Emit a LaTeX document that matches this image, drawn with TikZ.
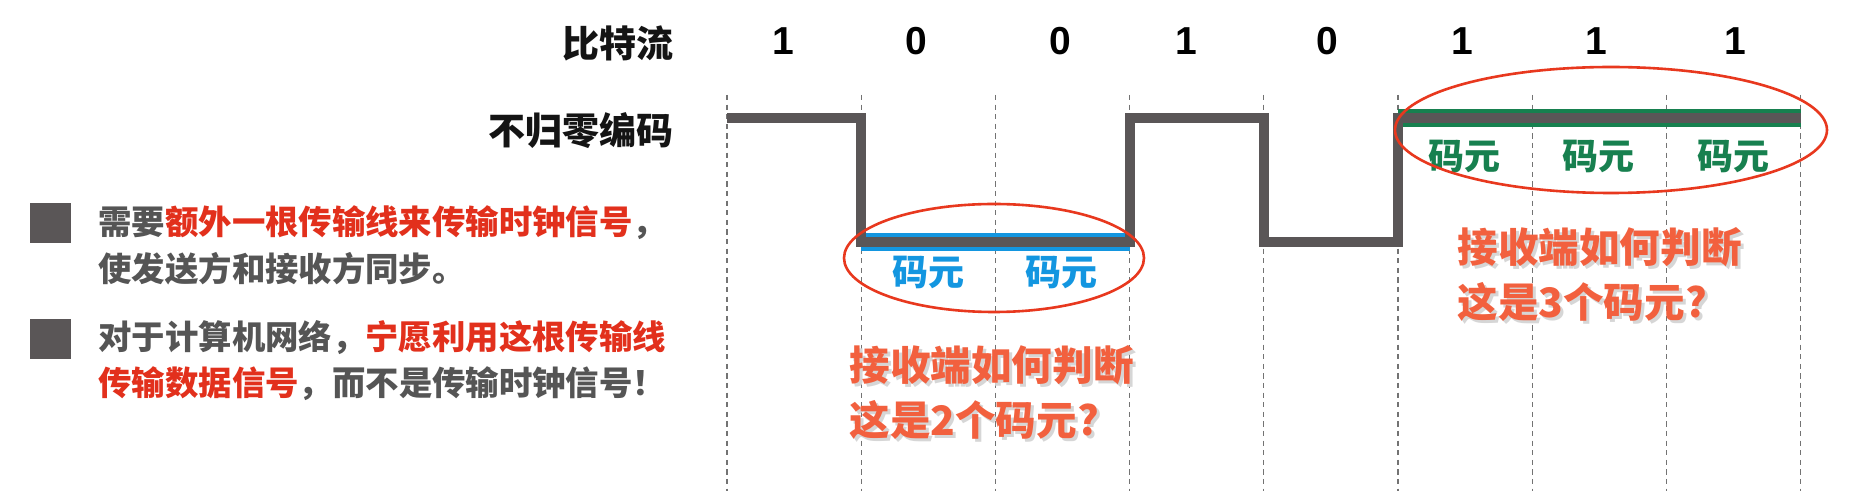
\documentclass[tikz,border=0pt]{standalone}
\usepackage{fontspec}
\usetikzlibrary{shapes.geometric}
\newfontfamily\cjk{Noto Sans CJK SC}
\newfontfamily\arialb{Liberation Sans}
\definecolor{sig}{HTML}{5A5657}
\definecolor{gtext}{HTML}{555555}
\definecolor{redt}{HTML}{E2301C}
\definecolor{redc}{HTML}{E8381E}
\definecolor{askc}{HTML}{F2603E}
\definecolor{bluec}{HTML}{1396E0}
\definecolor{greenc}{HTML}{17804F}
\tikzset{
  head/.style={font=\cjk\bfseries\fontsize{18.5}{22}\selectfont, text=black!92, inner sep=0, anchor=east},
  bitlbl/.style={font=\arialb\bfseries\fontsize{19.5}{22}\selectfont, text=black, inner sep=0},
  body/.style={font=\cjk\bfseries\fontsize{16.7}{20}\selectfont, text=gtext, anchor=west, inner sep=0},
  sym/.style={font=\cjk\bfseries\fontsize{18}{20}\selectfont, inner sep=0},
  ask/.style={font=\cjk\bfseries\fontsize{20.3}{27.5}\selectfont, text=askc, align=left, anchor=west, inner sep=0},
  askshadow/.style={ask, text=black!16},
  grid/.style={line width=0.65pt, black!55, dash pattern=on 2.6pt off 2.2pt},
  wave/.style={line width=5pt, sig, line join=miter, line cap=butt},
  hilite/.style={line width=9pt, line cap=butt},
  ring/.style={ellipse, draw=redc, line width=1.3pt, inner sep=0},
  bulletsq/.style={fill=sig, draw=none}
}
\begin{document}
\begin{tikzpicture}[x=0.5pt,y=-0.5pt]
\useasboundingbox[fill=white] (0,0) rectangle (1860,491);
% grid
\foreach \i in {0,...,8} {
  \coordinate (gt\i) at ({727+134.2*\i},95);
  \coordinate (gb\i) at ({727+134.2*\i},491);
  \draw[grid] (gt\i) -- (gb\i);
}
% highlighted symbol lines
\coordinate (b1) at (861,242);
\coordinate (b2) at (1129.6,242);
\coordinate (g1) at (1398,118);
\coordinate (g2) at (1801,118);
\draw[hilite, bluec] (b1) -- (b2);
\draw[hilite, greenc] (g1) -- (g2);
% NRZ waveform
\coordinate (w0) at (727,118);
\coordinate (w1) at (861.2,118);
\coordinate (w2) at (861.2,242);
\coordinate (w3) at (1129.6,242);
\coordinate (w4) at (1129.6,118);
\coordinate (w5) at (1263.8,118);
\coordinate (w6) at (1263.8,242);
\coordinate (w7) at (1398,242);
\coordinate (w8) at (1398,118);
\coordinate (w9) at (1801,118);
\draw[wave] (w0) -- (w1) -- (w2) -- (w3) -- (w4) -- (w5) -- (w6) -- (w7) -- (w8) -- (w9);
% headings
\node[head] (hbits) at (674,43) {比特流};
\node[head] (hnrz) at (674,131) {不归零编码};
% bits
\foreach \x/\b [count=\k] in {783/1,916/0,1060/0,1186/1,1327/0,1462/1,1596/1,1735/1} {
  \node[bitlbl] (bit\k) at (\x,41) {\b};
}
% symbol labels
\node[sym, text=bluec] (s1) at (928,272) {码元};
\node[sym, text=bluec] (s2) at (1061,272) {码元};
\node[sym, text=greenc] (s3) at (1464,156) {码元};
\node[sym, text=greenc] (s4) at (1598,156) {码元};
\node[sym, text=greenc] (s5) at (1733,156) {码元};
% ellipses
\node[ring, minimum width=150pt, minimum height=54pt] (e1) at (994,258) {};
\node[ring, minimum width=216pt, minimum height=63pt] (e2) at (1611,130) {};
% questions
\node[askshadow] (q1s) at (852,395) {接收端如何判断\\这是2个码元?};
\node[ask] (q1) at (849,392) {接收端如何判断\\这是2个码元?};
\node[askshadow] (q2s) at (1460,277) {接收端如何判断\\这是3个码元?};
\node[ask] (q2) at (1457,274) {接收端如何判断\\这是3个码元?};
% bullets
\fill[bulletsq] (30,203) rectangle (71,243);
\fill[bulletsq] (30,319) rectangle (71,359);
\node[body] (t1) at (98,223) {需要\textcolor{redt}{额外一根传输线来传输时钟信号}，};
\node[body] (t2) at (98,269) {使发送方和接收方同步。};
\node[body] (t3) at (98,338) {对于计算机网络，\textcolor{redt}{宁愿利用这根传输线}};
\node[body] (t4) at (98,384) {\textcolor{redt}{传输数据信号}，而不是传输时钟信号！};
\end{tikzpicture}
\end{document}
